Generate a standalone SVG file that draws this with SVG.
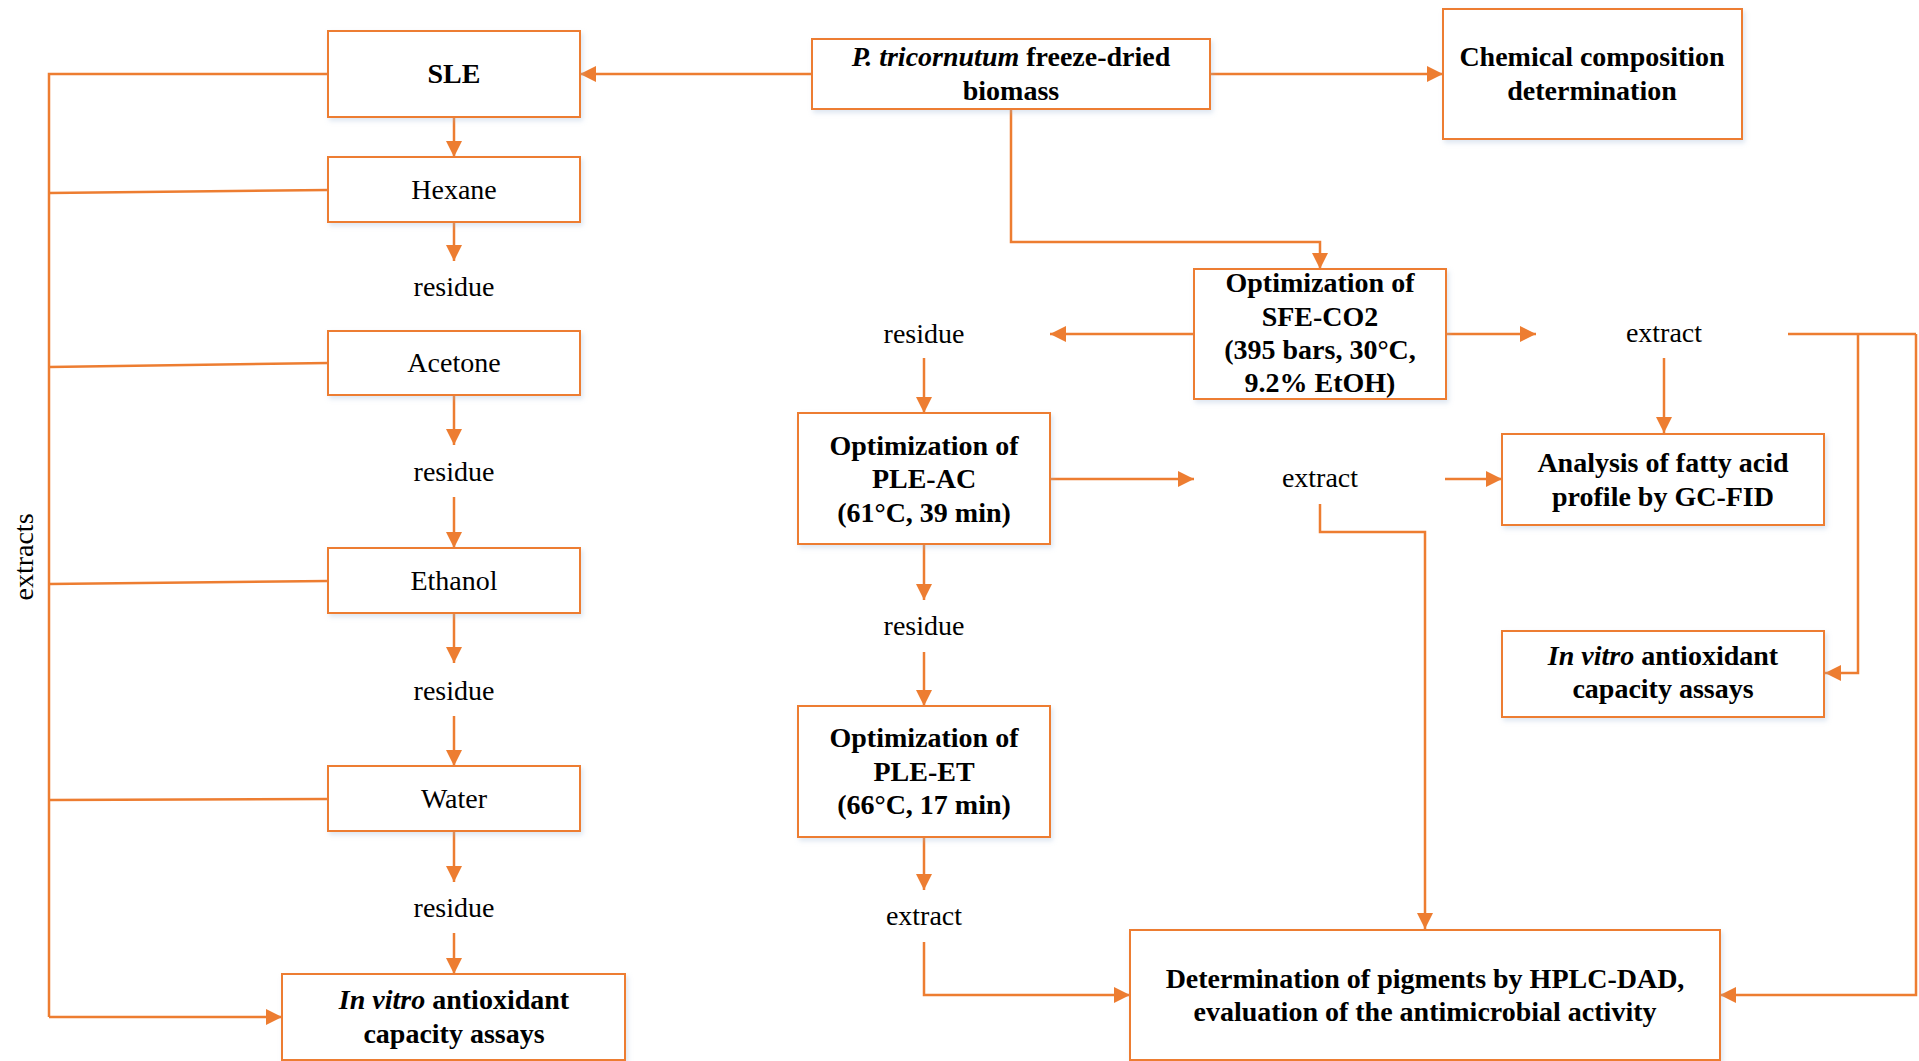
<svg xmlns="http://www.w3.org/2000/svg" width="1919" height="1061" viewBox="0 0 1919 1061">
<defs>
<style>
.box{fill:#fff;stroke:#ED7D31;stroke-width:2;filter:url(#sh)}
.c{fill:none;stroke:#ED7D31;stroke-width:2.5}
.a{marker-end:url(#arr)}
text{font-family:"Liberation Serif","Times New Roman",serif;font-size:28px;fill:#000;text-anchor:middle}
.b{font-weight:bold}
.i{font-style:italic}
</style>
<filter id="sh" x="-10%" y="-10%" width="120%" height="130%">
<feDropShadow dx="2" dy="3" stdDeviation="2.5" flood-color="#9fb8d6" flood-opacity="0.35"/>
</filter>
<marker id="arr" markerUnits="userSpaceOnUse" markerWidth="18" markerHeight="18" refX="16" refY="8" orient="auto">
<path d="M0,0 L16,8 L0,16 z" fill="#ED7D31"/>
</marker>
</defs>
<rect width="1919" height="1061" fill="#fff"/>

<g id="connectors">
<!-- left bus -->
<path class="c" d="M328,74 L49,74 L49,1017"/>
<path class="c" d="M328,190 L49,193"/>
<path class="c" d="M328,363 L49,367"/>
<path class="c" d="M328,581 L49,584"/>
<path class="c" d="M328,799 L49,800"/>
<path class="c a" d="M49,1017 L282,1017"/>
<!-- SLE column -->
<path class="c a" d="M454,117 L454,157"/>
<path class="c a" d="M454,222 L454,261"/>
<path class="c a" d="M454,395 L454,445"/>
<path class="c a" d="M454,497 L454,548"/>
<path class="c a" d="M454,613 L454,663"/>
<path class="c a" d="M454,716 L454,766"/>
<path class="c a" d="M454,831 L454,882"/>
<path class="c a" d="M454,933 L454,974"/>
<!-- top -->
<path class="c a" d="M812,74 L580,74"/>
<path class="c a" d="M1210,74 L1443,74"/>
<path class="c a" d="M1011,109 L1011,242 L1320,242 L1320,269"/>
<!-- SFE -->
<path class="c a" d="M1194,334 L1050,334"/>
<path class="c a" d="M1446,334 L1536,334"/>
<path class="c a" d="M1664,358 L1664,433"/>
<path class="c" d="M1788,334 L1916,334"/>
<path class="c a" d="M1858,334 L1858,673 L1825,673"/>
<path class="c a" d="M1916,334 L1916,995 L1720,995"/>
<path class="c a" d="M924,358 L924,413"/>
<!-- PLE -->
<path class="c a" d="M1050,479 L1194,479"/>
<path class="c a" d="M1445,479 L1502,479"/>
<path class="c a" d="M1320,504 L1320,532 L1425,532 L1425,929"/>
<path class="c a" d="M924,544 L924,600"/>
<path class="c a" d="M924,652 L924,706"/>
<path class="c a" d="M924,837 L924,890"/>
<path class="c a" d="M924,942 L924,995 L1130,995"/>
</g>

<g id="labels">
<text x="454" y="296">residue</text>
<text x="454" y="481">residue</text>
<text x="454" y="700">residue</text>
<text x="454" y="917">residue</text>
<text x="924" y="343">residue</text>
<text x="1664" y="342">extract</text>
<text x="1320" y="487">extract</text>
<text x="924" y="635">residue</text>
<text x="924" y="925">extract</text>
<text transform="translate(33,557) rotate(-90)">extracts</text>
</g>

<g id="sle">
<rect class="box" x="328" y="31" width="252" height="86"/>
<text class="b" x="454" y="83">SLE</text>
</g>
<g id="hexane">
<rect class="box" x="328" y="157" width="252" height="65"/>
<text x="454" y="199">Hexane</text>
</g>
<g id="acetone">
<rect class="box" x="328" y="331" width="252" height="64"/>
<text x="454" y="372">Acetone</text>
</g>
<g id="ethanol">
<rect class="box" x="328" y="548" width="252" height="65"/>
<text x="454" y="590">Ethanol</text>
</g>
<g id="water">
<rect class="box" x="328" y="766" width="252" height="65"/>
<text x="454" y="808">Water</text>
</g>
<g id="invitro-left">
<rect class="box" x="282" y="974" width="343" height="86"/>
<text class="b" x="454" y="1009"><tspan class="i">In vitro</tspan> antioxidant</text>
<text class="b" x="454" y="1043">capacity assays</text>
</g>
<g id="biomass">
<rect class="box" x="812" y="39" width="398" height="70"/>
<text class="b" x="1011" y="66"><tspan class="i">P. tricornutum</tspan> freeze-dried</text>
<text class="b" x="1011" y="100">biomass</text>
</g>
<g id="chemical">
<rect class="box" x="1443" y="9" width="299" height="130"/>
<text class="b" x="1592" y="66">Chemical composition</text>
<text class="b" x="1592" y="100">determination</text>
</g>
<g id="sfe">
<rect class="box" x="1194" y="269" width="252" height="130"/>
<text class="b" x="1320" y="292">Optimization of</text>
<text class="b" x="1320" y="326">SFE-CO2</text>
<text class="b" x="1320" y="359">(395 bars, 30°C,</text>
<text class="b" x="1320" y="392">9.2% EtOH)</text>
</g>
<g id="ple-ac">
<rect class="box" x="798" y="413" width="252" height="131"/>
<text class="b" x="924" y="455">Optimization of</text>
<text class="b" x="924" y="488">PLE-AC</text>
<text class="b" x="924" y="522">(61°C, 39 min)</text>
</g>
<g id="ple-et">
<rect class="box" x="798" y="706" width="252" height="131"/>
<text class="b" x="924" y="747">Optimization of</text>
<text class="b" x="924" y="781">PLE-ET</text>
<text class="b" x="924" y="814">(66°C, 17 min)</text>
</g>
<g id="fatty">
<rect class="box" x="1502" y="434" width="322" height="91"/>
<text class="b" x="1663" y="472">Analysis of fatty acid</text>
<text class="b" x="1663" y="506">profile by GC-FID</text>
</g>
<g id="invitro-right">
<rect class="box" x="1502" y="631" width="322" height="86"/>
<text class="b" x="1663" y="665"><tspan class="i">In vitro</tspan> antioxidant</text>
<text class="b" x="1663" y="698">capacity assays</text>
</g>
<g id="hplc">
<rect class="box" x="1130" y="930" width="590" height="130"/>
<text class="b" x="1425" y="988">Determination of pigments by HPLC-DAD,</text>
<text class="b" x="1425" y="1021">evaluation of the antimicrobial activity</text>
</g>
</svg>
